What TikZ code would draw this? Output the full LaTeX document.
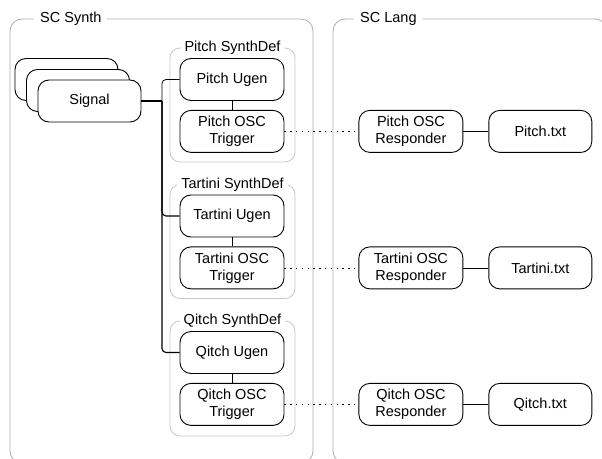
\documentclass[tikz,border=0pt]{standalone}
\usepackage{fontspec}
\setmainfont{Liberation Sans}
\usetikzlibrary{positioning}

\begin{document}
\begin{tikzpicture}[
  x=1pt,y=-1pt,
  font=\fontsize{14.5}{17}\selectfont,
  block/.style={draw,fill=white,rounded corners=11pt,line width=0.9pt,minimum width=104pt,minimum height=42pt,align=center,inner sep=1pt},
  frame/.style={draw=black!32,rounded corners=12pt,line width=0.8pt},
  group/.style={draw=black!22,rounded corners=10pt,line width=0.8pt},
  title/.style={fill=white,inner xsep=6pt,inner ysep=2pt},
  wire/.style={line width=0.8pt,rounded corners=4pt},
  trunk/.style={line width=1.1pt,rounded corners=4pt},
  bus/.style={line width=1.6pt},
  osc/.style={line width=0.8pt,dash pattern=on 1.3pt off 4.5pt}
]
  \clip (0,0) rectangle (602,458);
  \fill[white] (0,0) rectangle (602,458);

  % outer frames
  \draw[frame] (10,19) rectangle (313,463);
  \draw[frame] (333,19) rectangle (607,463);
  \node[title,anchor=west] at (34,19) {SC Synth};
  \node[title,anchor=west] at (354,19) {SC Lang};

  % signal stack
  \node[block,minimum width=103pt] (sigback) at (66.5,79.5) {};
  \node[block,minimum width=103pt] (sigmid) at (78,90.5) {};
  \node[block,minimum width=103pt] (sig) at (89.5,101) {Signal};

  % synthdef groups
  \draw[group] (170,48) rectangle (295,162);
  \node[title,inner xsep=4pt] at (232.5,48) {Pitch SynthDef};
  \node[block] (pugen) at (232,79.5) {Pitch Ugen};
  \node[block,below=9pt of pugen] (ptrig) {Pitch OSC\\Trigger};

  \draw[group] (170,184.5) rectangle (295,298.5);
  \node[title,inner xsep=4pt] at (232.5,184.5) {Tartini SynthDef};
  \node[block] (tugen) at (232,216) {Tartini Ugen};
  \node[block,below=9pt of tugen] (ttrig) {Tartini OSC\\Trigger};

  \draw[group] (170,321) rectangle (295,436);
  \node[title,inner xsep=4pt] at (232.5,321) {Qitch SynthDef};
  \node[block] (qugen) at (232,352.5) {Qitch Ugen};
  \node[block,below=9pt of qugen] (qtrig) {Qitch OSC\\Trigger};

  % responders and files
  \node[block,right=74pt of ptrig] (presp) {Pitch OSC\\Responder};
  \node[block,right=25pt of presp,minimum width=103pt] (ptxt) {Pitch.txt};
  \node[block,right=74pt of ttrig] (tresp) {Tartini OSC\\Responder};
  \node[block,right=25pt of tresp,minimum width=103pt] (ttxt) {Tartini.txt};
  \node[block,right=74pt of qtrig] (qresp) {Qitch OSC\\Responder};
  \node[block,right=25pt of qresp,minimum width=103pt] (qtxt) {Qitch.txt};

  % signal fan-out
  \coordinate (fork) at (162,101);
  \draw[wire] (fork) |- (pugen.west);
  \draw[trunk] (fork) |- (tugen.west);
  \draw[trunk] (fork) |- (qugen.west);
  \draw[bus] (sig.east) -- (fork);

  \draw[wire] (pugen) -- (ptrig);
  \draw[wire] (tugen) -- (ttrig);
  \draw[wire] (qugen) -- (qtrig);

  \draw[osc] (ptrig) -- (presp);
  \draw[osc] (ttrig) -- (tresp);
  \draw[osc] (qtrig) -- (qresp);

  \draw[wire] (presp) -- (ptxt);
  \draw[wire] (tresp) -- (ttxt);
  \draw[wire] (qresp) -- (qtxt);
\end{tikzpicture}
\end{document}
